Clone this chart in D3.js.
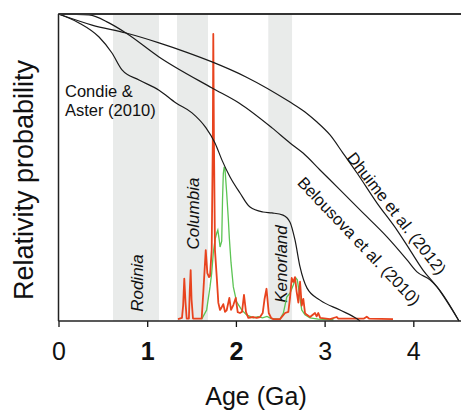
<!DOCTYPE html>
<html>
<head>
<meta charset="utf-8">
<script src="https://cdn.jsdelivr.net/npm/d3@7"></script>
<style>
  body { margin: 0; background: #fff; }
  text { font-family: Arial, "Liberation Sans", sans-serif; fill: #111; }
</style>
</head>
<body>
<div class="canvas"></div>
<script>
// ---- data (age in Ga, relative probability 0..1) ----
const supercontinents = ['Rodinia', 'Columbia', 'Kenorland'];
const bandStart = [0.614, 1.336, 2.365];
const bandEnd = [1.133, 1.685, 2.633];

const condieAge = [0, 0.231, 0.457, 0.603, 0.716, 0.908, 1.133, 1.325, 1.505, 1.663, 1.764, 1.843, 1.934, 2.046, 2.159, 2.306, 2.407, 2.531, 2.610, 2.666, 2.723, 2.802, 2.948, 3.174, 3.365, 3.40];
const condieProb = [1, 0.971, 0.925, 0.873, 0.818, 0.785, 0.752, 0.710, 0.678, 0.629, 0.580, 0.524, 0.469, 0.417, 0.371, 0.355, 0.352, 0.345, 0.322, 0.264, 0.176, 0.107, 0.068, 0.036, 0.007, 0];

const belousovaAge = [0, 0.344, 0.569, 0.761, 1.133, 1.731, 2.035, 2.407, 2.610, 2.757, 2.948, 3.174, 3.433, 3.703, 3.929, 4.041, 4.188, 4.267, 4.515];
const belousovaProb = [1, 0.997, 0.971, 0.938, 0.860, 0.759, 0.710, 0.629, 0.580, 0.547, 0.492, 0.427, 0.352, 0.274, 0.199, 0.160, 0.134, 0.111, 0];

const dhuimeAge = [0, 0.378, 0.761, 1.133, 1.438, 1.731, 2.114, 2.610, 2.779, 2.914, 3.061, 3.207, 3.365, 3.591, 3.816, 3.963, 4.109, 4.267, 4.515];
const dhuimeProb = [1, 0.964, 0.938, 0.906, 0.876, 0.844, 0.795, 0.713, 0.681, 0.648, 0.606, 0.547, 0.482, 0.384, 0.296, 0.231, 0.166, 0.111, 0];

const redAge = [1.347, 1.392, 1.405, 1.418, 1.432, 1.445, 1.470, 1.480, 1.490, 1.500, 1.516, 1.614, 1.632, 1.660, 1.678, 1.697, 1.708, 1.727, 1.740, 1.745, 1.752, 1.764, 1.784, 1.802, 1.821, 1.840, 1.858, 1.877, 1.896, 1.926, 1.945, 1.971, 1.998, 2.020, 2.046, 2.069, 2.091, 2.114, 2.140, 2.196, 2.234, 2.272, 2.302, 2.322, 2.345, 2.370, 2.397, 2.422, 2.497, 2.554, 2.591, 2.610, 2.629, 2.647, 2.666, 2.685, 2.704, 2.723, 2.742, 2.760, 2.779, 2.800, 2.835, 2.892, 2.910, 2.929, 2.950, 3.061, 3.136, 3.154, 3.444, 3.475, 3.501, 3.771];
const redProb = [0.006, 0.010, 0.05, 0.138, 0.06, 0.008, 0.008, 0.10, 0.166, 0.07, 0.008, 0.008, 0.091, 0.231, 0.156, 0.143, 0.146, 0.231, 0.60, 0.935, 0.60, 0.231, 0.143, 0.059, 0.036, 0.045, 0.055, 0.030, 0.035, 0.075, 0.036, 0.052, 0.075, 0.029, 0.026, 0.030, 0.085, 0.029, 0.010, 0.013, 0.010, 0.013, 0.026, 0.07, 0.105, 0.026, 0.010, 0.006, 0.006, 0.026, 0.030, 0.075, 0.140, 0.127, 0.143, 0.095, 0.060, 0.128, 0.05, 0.072, 0.026, 0.020, 0.013, 0.026, 0.015, 0.026, 0.010, 0.006, 0.013, 0.008, 0.008, 0.014, 0.008, 0.006];

const greenAge = [1.614, 1.670, 1.708, 1.727, 1.745, 1.764, 1.784, 1.796, 1.812, 1.821, 1.840, 1.849, 1.858, 1.868, 1.877, 1.896, 1.915, 1.926, 1.945, 1.971, 2.008, 2.065, 2.121, 2.196, 2.25, 2.30, 2.35, 2.40, 2.497, 2.535, 2.573, 2.610, 2.647, 2.677, 2.692, 2.715, 2.742, 2.779, 2.835, 2.929, 3.1];
const greenProb = [0.006, 0.036, 0.111, 0.156, 0.221, 0.264, 0.287, 0.296, 0.264, 0.241, 0.26, 0.394, 0.48, 0.502, 0.495, 0.417, 0.329, 0.270, 0.190, 0.111, 0.062, 0.036, 0.020, 0.010, 0.014, 0.010, 0.015, 0.008, 0.006, 0.026, 0.078, 0.091, 0.117, 0.140, 0.134, 0.091, 0.036, 0.020, 0.010, 0.006, 0.004];

const tickValues = [0, 1, 2, 3, 4];
const tickLabels = ['0', '1', '2', '3', '4'];

// ---- setup ----
const width = 461, height = 410;
const svg = d3.select('.canvas')
  .append('svg')
    .attr('width', width)
    .attr('height', height);

const x = d3.scaleLinear().domain([0, 4.515]).range([58.5, 459]);
const y = d3.scaleLinear().domain([0, 1]).range([321, 14]);

const zip = (a, b) => a.map((v, i) => [v, b[i]]);

// grey bands
svg.selectAll('rect.band')
  .data(supercontinents)
  .enter()
  .append('rect')
    .attr('class', 'band')
    .attr('x', (d, i) => x(bandStart[i]))
    .attr('width', (d, i) => x(bandEnd[i]) - x(bandStart[i]))
    .attr('y', y(1))
    .attr('height', y(0) - y(1))
    .style('fill', '#e9ebea');

// band labels
const bandLabelY = [283, 213.5, 264];
svg.selectAll('text.band')
  .data(supercontinents)
  .enter()
  .append('text')
    .attr('transform', (d, i) => `translate(${x((bandStart[i] + bandEnd[i]) / 2) + 1},${bandLabelY[i]}) rotate(-90)`)
    .attr('text-anchor', 'middle')
    .attr('dy', '0.35em')
    .style('font-size', '17px')
    .style('font-style', 'italic')
    .text(d => d);

// red & green spectra
const spiky = d3.line().x(d => x(d[0])).y(d => y(d[1]));
svg.append('path')
  .datum(zip(greenAge, greenProb))
  .attr('d', spiky)
  .style('fill', 'none')
  .style('stroke', '#5cc454')
  .style('stroke-width', 1.3);

svg.append('path')
  .datum(zip(redAge, redProb))
  .attr('d', spiky)
  .style('fill', 'none')
  .style('stroke', '#e8431e')
  .style('stroke-width', 1.8)
  .style('stroke-linejoin', 'round');

// cumulative curves
const smooth = d3.line().x(d => x(d[0])).y(d => y(d[1])).curve(d3.curveMonotoneX);
[[condieAge, condieProb], [belousovaAge, belousovaProb], [dhuimeAge, dhuimeProb]].forEach(c => {
  svg.append('path')
    .datum(zip(c[0], c[1]))
    .attr('d', smooth)
    .style('fill', 'none')
    .style('stroke', '#1a1a1a')
    .style('stroke-width', 1.2);
});

// frame: top line and left axis
svg.append('line')
  .attr('x1', x(0)).attr('x2', width)
  .attr('y1', y(1)).attr('y2', y(1))
  .style('stroke', '#333').style('stroke-width', 2);
svg.append('line')
  .attr('x1', x(0)).attr('x2', x(0))
  .attr('y1', y(1)).attr('y2', y(0))
  .style('stroke', '#222').style('stroke-width', 1.5);

// x axis
const xAxis = d3.axisBottom(x)
  .tickValues(tickValues)
  .tickFormat((d, i) => tickLabels[i])
  .tickSize(6)
  .tickSizeOuter(0)
  .tickPadding(15);

const xAxisGroup = svg.append('g')
  .attr('transform', `translate(0,${y(0)})`)
  .call(xAxis);
xAxisGroup.select('.domain').remove();
xAxisGroup.selectAll('.tick line').style('stroke', '#111').style('stroke-width', 1.3);
xAxisGroup.selectAll('.tick text')
  .style('font-size', '25px')
  .style('font-family', 'Arial, "Liberation Sans", sans-serif')
  .style('fill', '#111')
  .style('font-weight', d => (d === 1 || d === 2) ? 'bold' : 'normal');
svg.append('line')
  .attr('x1', x(0)).attr('x2', width)
  .attr('y1', y(0)).attr('y2', y(0))
  .style('stroke', '#222').style('stroke-width', 1.5);

// axis titles
svg.append('text')
  .attr('x', 256).attr('y', 405)
  .attr('text-anchor', 'middle')
  .style('font-size', '25px')
  .text('Age (Ga)');

svg.append('text')
  .attr('transform', 'translate(33,180) rotate(-90)')
  .attr('text-anchor', 'middle')
  .style('font-size', '27px')
  .text('Relativity probability');

// curve labels
const condie = svg.append('text').style('font-size', '16.5px');
condie.append('tspan').attr('x', 65).attr('y', 97).text('Condie &');
condie.append('tspan').attr('x', 65).attr('y', 116).text('Aster (2010)');

svg.append('text')
  .attr('transform', 'translate(396.7,213.3) rotate(52)')
  .attr('text-anchor', 'middle')
  .attr('dy', '0.35em')
  .style('font-size', '16.5px')
  .text('Dhuime et al. (2012)');

svg.append('text')
  .attr('transform', 'translate(359,241) rotate(46.5)')
  .attr('text-anchor', 'middle')
  .attr('dy', '0.35em')
  .style('font-size', '16.5px')
  .text('Belousova et al. (2010)');
</script>
</body>
</html>
